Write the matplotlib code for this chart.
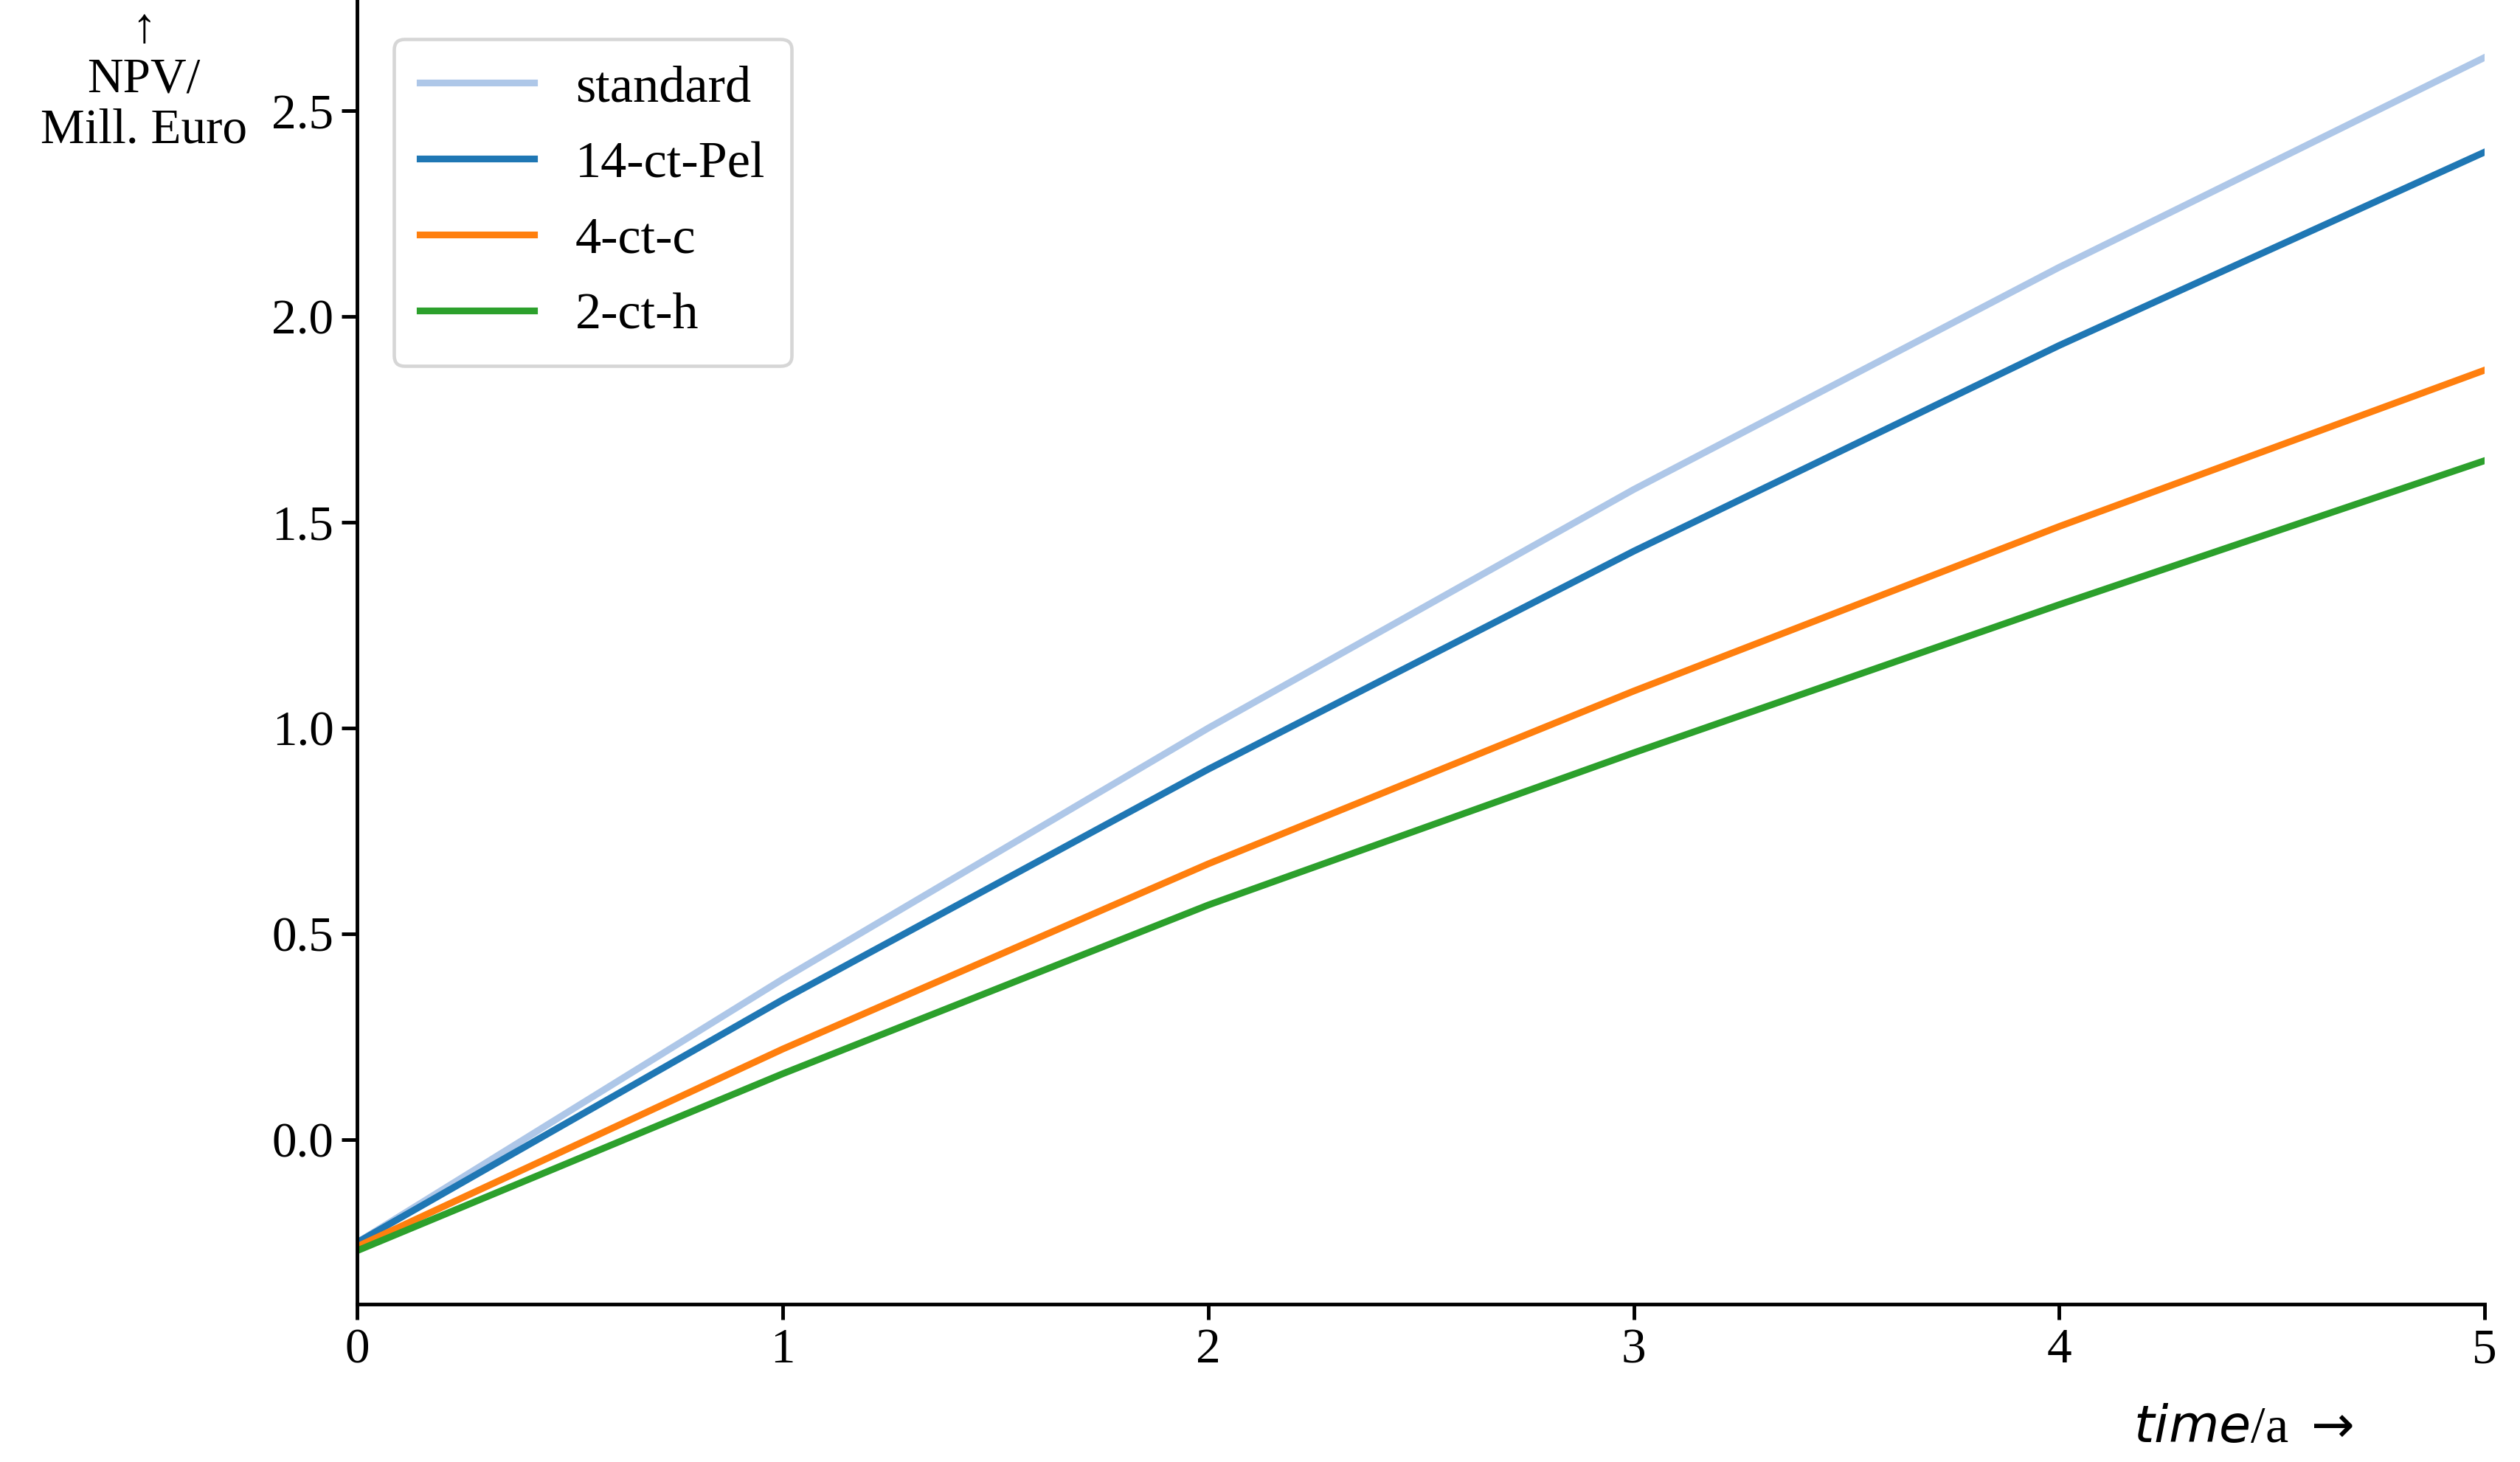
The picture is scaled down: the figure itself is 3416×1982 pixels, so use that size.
import matplotlib.pyplot as plt

plt.rcParams['font.family'] = ['Liberation Serif', 'DejaVu Serif']
plt.rcParams['mathtext.fontset'] = 'dejavusans'

years = [0, 1, 2, 3, 4, 5]
standard = [-0.25, 0.39, 1.00, 1.58, 2.12, 2.63]
ct14_pel = [-0.25, 0.34, 0.90, 1.43, 1.93, 2.40]
ct4_c = [-0.26, 0.22, 0.67, 1.09, 1.49, 1.87]
ct2_h = [-0.27, 0.16, 0.57, 0.94, 1.30, 1.65]

fig = plt.figure(figsize=(15.53, 9.01), dpi=220)
ax = fig.add_axes([0.1418, 0.108, 0.844, 0.892])

lw = 3.0
ax.plot(years, standard, color='#aec7e8', lw=lw, label='standard')
ax.plot(years, ct14_pel, color='#1f77b4', lw=lw, label='14-ct-Pel')
ax.plot(years, ct4_c, color='#ff7f0e', lw=lw, label='4-ct-c')
ax.plot(years, ct2_h, color='#2ca02c', lw=lw, label='2-ct-h')

ax.set_xlim(0, 5)
ax.set_ylim(-0.40, 2.77)
ax.set_yticks([0.0, 0.5, 1.0, 1.5, 2.0, 2.5])
ax.spines['top'].set_visible(False)
ax.spines['right'].set_visible(False)
for s in ('left', 'bottom'):
    ax.spines[s].set_linewidth(1.6)
ax.tick_params(labelsize=22, width=1.6, length=7)

leg = ax.legend(loc='upper left', fontsize=23, handlelength=2.2,
                borderpad=0.5, labelspacing=0.55, bbox_to_anchor=(0.005, 0.99))
leg.get_frame().set_linewidth(1.5)

fig.text(0.057, 0.995, '↑\nNPV/\nMill. Euro', ha='center', va='top',
         fontsize=22, linespacing=1.15)
fig.text(0.89, 0.022, r'$\mathit{time}$/a $\rightarrow$', ha='center',
         va='center', fontsize=23)

fig.savefig('out.png', dpi=220)
